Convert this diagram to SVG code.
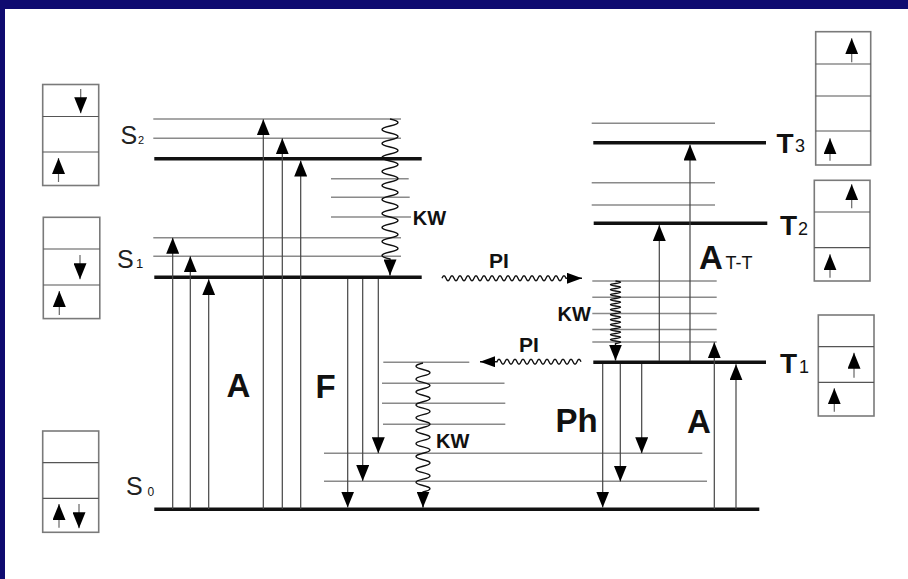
<svg xmlns="http://www.w3.org/2000/svg" width="908" height="579" viewBox="0 0 908 579">
<style>
.thin{stroke:#8a8a8a;stroke-width:1.5;fill:none}
.thick{stroke:#111;stroke-width:3.5;fill:none}
.vl{stroke:#444;stroke-width:1.2;fill:none}
.wave{stroke:#111;stroke-width:1.4;fill:none}
.box{fill:#fff;stroke:#7a7a7a;stroke-width:1.6}
.div{stroke:#555;stroke-width:1.2}
.bar{stroke:#666;stroke-width:1.2;fill:none}
text{font-family:"Liberation Sans",Arial,sans-serif;fill:#111}
.big{font-size:33px;font-weight:bold}
.kw{font-size:20px;font-weight:bold}
.pi{font-size:21px;font-weight:bold}
.tl{font-size:28px;font-weight:bold}
.tsub{font-size:18px}
.s{font-size:25px;fill:#222}
</style>
<defs>
<marker id="ah" viewBox="0 0 16 13" refX="16" refY="6.5" markerWidth="16" markerHeight="13" markerUnits="userSpaceOnUse" orient="auto"><path d="M0,0L16,6.5L0,13z" fill="#000"/></marker>
<marker id="ahs" viewBox="0 0 15 11" refX="15" refY="5.5" markerWidth="15" markerHeight="11" markerUnits="userSpaceOnUse" orient="auto"><path d="M0,0L15,5.5L0,11z" fill="#000"/></marker>
</defs>
<rect x="0" y="0" width="908" height="579" fill="#fff"/>
<rect x="0" y="0" width="908" height="9" fill="#0f0b70"/>
<rect x="0" y="0" width="5" height="579" fill="#0f0b70"/>

<!-- singlet states -->
<g id="S2">
<path class="thin" d="M153.3,119H401M153.3,138.3H401M331,178.7H408.7M331,197.3H409.7M331,217H411"/>
<path class="thick" d="M154.3,158.7H421.7"/>
<text class="s" x="120.5" y="144">S</text><text x="138" y="144" font-size="11" fill="#222">2</text>
</g>
<g id="S1">
<path class="thin" d="M153.3,237.7H401M153.3,256.3H401"/>
<path class="thick" d="M154.3,277.3H421.7"/>
<text class="s" x="117" y="268.3" font-size="26">S</text><text x="136" y="268.3" font-size="13" fill="#222">1</text>
</g>
<g id="S0">
<path class="thin" d="M324,453.3H702.3M324,481.3H707M383.3,362.3H469.3M382,383.3H504.5M382,403.3H505.3M383,424.3H505.3"/>
<path class="thick" d="M154.3,509.3H759.3"/>
<text class="s" x="126" y="495">S</text><text x="147.5" y="496" font-size="12" fill="#222">0</text>
</g>
<!-- triplet states -->
<g id="T3">
<path class="thin" d="M591.7,123.3H715"/>
<path class="thick" d="M593.3,142.7H766"/>
<text class="tl" x="776.5" y="152.7">T</text><text class="tsub" x="795" y="152">3</text>
</g>
<g id="T2">
<path class="thin" d="M591.7,182.7H715M591.7,205H715"/>
<path class="thick" d="M593.7,223.3H767.3"/>
<text class="tl" x="780" y="235">T</text><text class="tsub" x="798" y="235">2</text>
</g>
<g id="T1">
<path class="thin" d="M592.3,281H716.7M592.3,297.3H716.7M592.3,313.5H716.7M592.3,329.5H716.7M592.3,342H716.7"/>
<path class="thick" d="M593.3,362.3H766"/>
<text class="tl" x="780" y="372.7">T</text><text class="tsub" x="799" y="372.7">1</text>
</g>

<!-- spin boxes -->
<g id="boxS2">
<rect class="box" x="42.7" y="84.5" width="56" height="101"/>
<path class="div" d="M42.7,116.5H98.7M42.7,152H98.7"/>
<path class="bar" d="M80.7,89V113.3" marker-end="url(#ah)"/>
<path class="bar" d="M58.5,182V158" marker-end="url(#ah)"/>
</g>
<g id="boxS1">
<rect class="box" x="43.3" y="217.3" width="56.5" height="101.3"/>
<path class="div" d="M43.3,249H99.8M43.3,285H99.8"/>
<path class="bar" d="M80,255V279.3" marker-end="url(#ah)"/>
<path class="bar" d="M59.3,315V291" marker-end="url(#ah)"/>
</g>
<g id="boxS0">
<rect class="box" x="42.7" y="431" width="56" height="101.3"/>
<path class="div" d="M42.7,462.7H98.7M42.7,498.3H98.7"/>
<path class="bar" d="M59,527.7V504" marker-end="url(#ah)"/>
<path class="bar" d="M79,504V528.3" marker-end="url(#ah)"/>
</g>
<g id="boxT3">
<rect class="box" x="815.7" y="31.7" width="55" height="133.3"/>
<path class="div" d="M815.7,64H870.7M815.7,96H870.7M815.7,131H870.7"/>
<path class="bar" d="M851.7,62.3V38.3" marker-end="url(#ah)"/>
<path class="bar" d="M830,160.7V138.3" marker-end="url(#ah)"/>
</g>
<g id="boxT2">
<rect class="box" x="814.3" y="180.3" width="55.7" height="100.7"/>
<path class="div" d="M814.3,212H870M814.3,247.7H870"/>
<path class="bar" d="M851.7,208.3V184.3" marker-end="url(#ah)"/>
<path class="bar" d="M830,277.7V254.3" marker-end="url(#ah)"/>
</g>
<g id="boxT1">
<rect class="box" x="818.3" y="315" width="55.7" height="101"/>
<path class="div" d="M818.3,346.7H874M818.3,382.3H874"/>
<path class="bar" d="M854,377.7V352.7" marker-end="url(#ah)"/>
<path class="bar" d="M834.3,411.7V388.3" marker-end="url(#ah)"/>
</g>

<!-- process labels -->
<g id="labels">
<text class="big" x="226.5" y="396.7">A</text>
<text class="big" x="315.5" y="398">F</text>
<text class="big" x="555.5" y="431.7">Ph</text>
<text class="big" x="687" y="432.7">A</text>
<text class="big" x="699" y="269.3">A</text><text x="725.5" y="269.3" font-size="18">T-T</text>
<text class="kw" x="412.7" y="225">KW</text>
<text class="kw" x="557.5" y="320.7">KW</text>
<text class="kw" x="436" y="447.7">KW</text>
<text class="pi" x="489" y="268.3">PI</text>
<text class="pi" x="519" y="351.7">PI</text>
</g>

<g id="connectors">
<!-- absorption S0 -> S1 / S2 -->
<path class="vl" d="M172.7,509V237.7" marker-end="url(#ah)"/>
<path class="vl" d="M190.3,509V256.3" marker-end="url(#ah)"/>
<path class="vl" d="M208.7,509V279.2" marker-end="url(#ah)"/>
<path class="vl" d="M263.3,509V119.3" marker-end="url(#ah)"/>
<path class="vl" d="M282.3,509V138.3" marker-end="url(#ah)"/>
<path class="vl" d="M300.7,509V160.5" marker-end="url(#ah)"/>
<!-- fluorescence -->
<path class="vl" d="M347.7,279V507.6" marker-end="url(#ah)"/>
<path class="vl" d="M362.7,279V481" marker-end="url(#ah)"/>
<path class="vl" d="M378.3,279V453.3" marker-end="url(#ah)"/>
<!-- phosphorescence -->
<path class="vl" d="M602.7,364V507.6" marker-end="url(#ah)"/>
<path class="vl" d="M620.3,364V481.5" marker-end="url(#ah)"/>
<path class="vl" d="M641.7,364V453.3" marker-end="url(#ah)"/>
<!-- T-T absorption -->
<path class="vl" d="M659.3,361V225.1" marker-end="url(#ah)"/>
<path class="vl" d="M690,361V144.5" marker-end="url(#ah)"/>
<!-- S0 -> T1 absorption -->
<path class="vl" d="M714.3,509V342.3" marker-end="url(#ah)"/>
<path class="vl" d="M736,509V364.2" marker-end="url(#ah)"/>
<!-- internal conversion (KW) -->
<path class="wave" d="M390,119q16,3.5 0,7t0,7t0,7t0,7t0,7t0,7t0,7t0,7t0,7t0,7t0,7t0,7t0,7t0,7t0,7t0,7t0,7t0,7t0,7t0,7V275.4" marker-end="url(#ah)"/>
<path class="wave" d="M423,363q-14,3.225 0,6.45t0,6.45t0,6.45t0,6.45t0,6.45t0,6.45t0,6.45t0,6.45t0,6.45t0,6.45t0,6.45t0,6.45t0,6.45t0,6.45t0,6.45t0,6.45t0,6.45t0,6.45t0,6.45t0,6.45V507.6" marker-end="url(#ah)"/>
<path class="wave" d="M615.5,281q10,1.25 0,2.5t0,2.5t0,2.5t0,2.5t0,2.5t0,2.5t0,2.5t0,2.5t0,2.5t0,2.5t0,2.5t0,2.5t0,2.5t0,2.5t0,2.5t0,2.5t0,2.5t0,2.5t0,2.5t0,2.5t0,2.5t0,2.5t0,2.5t0,2.5t0,2.5V360.5" marker-end="url(#ah)"/>
<!-- intersystem crossing (PI) -->
<path class="wave" d="M442,278.3q2,-5 4,0t4,0t4,0t4,0t4,0t4,0t4,0t4,0t4,0t4,0t4,0t4,0t4,0t4,0t4,0t4,0t4,0t4,0t4,0t4,0t4,0t4,0t4,0t4,0t4,0t4,0t4,0t4,0t4,0t4,0t4,0H582" marker-end="url(#ahs)"/>
<path class="wave" d="M581,361.7q-2,-5 -4,0t-4,0t-4,0t-4,0t-4,0t-4,0t-4,0t-4,0t-4,0t-4,0t-4,0t-4,0t-4,0t-4,0t-4,0t-4,0t-4,0t-4,0t-4,0t-4,0t-4,0H480" marker-end="url(#ahs)"/>
</g>
</svg>
